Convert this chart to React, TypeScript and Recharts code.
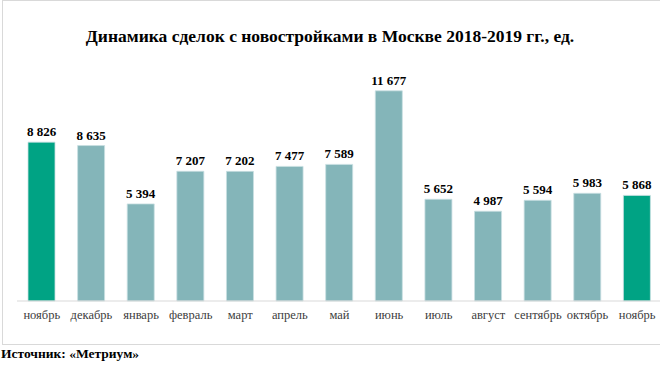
import React from "react";
import { BarChart, Bar, XAxis, YAxis, Cell, LabelList } from "recharts";

const months = ["ноябрь", "декабрь", "январь", "февраль", "март", "апрель", "май", "июнь", "июль", "август", "сентябрь", "октябрь", "ноябрь"];
const deals = [8826, 8635, 5394, 7207, 7202, 7477, 7589, 11677, 5652, 4987, 5594, 5983, 5868];
const highlighted = [0, 12];

const GREEN = "#00a384";
const TEAL = "#84b5b9";
const SERIF = "'Liberation Serif', 'Times New Roman', serif";

const data = months.map((m, i) => ({ month: m, value: deals[i] }));
// non-breaking space so the label text doesn't wrap
const fmt = (v: number) => String(v).replace(/\B(?=(\d{3})+(?!\d))/g, "\u00a0");

export default function App() {
  return (
    <div style={{ position: "absolute", left: 0, top: 0, width: 660, height: 367, overflow: "hidden", background: "#fff", fontFamily: SERIF }}>
      <div style={{ position: "absolute", left: 2, top: 0, width: 700, height: 343, border: "1.5px solid #d9d9d9" }} />
      <div style={{ position: "absolute", left: 0, top: 26, width: 660, textAlign: "center", fontWeight: "bold", fontSize: 17.5, color: "#000" }}>
        Динамика сделок с новостройками в Москве 2018-2019 гг., ед.
      </div>
      <div style={{ position: "absolute", left: 0, top: 0 }}>
        <BarChart width={680} height={345} data={data} margin={{ top: 67, right: 18, bottom: 14, left: 17 }} barSize={27}>
          <XAxis dataKey="month" interval={0} axisLine={{ stroke: "#d9d9d9" }} tickLine={false} height={30}
            tick={{ fontSize: 12.5, fill: "#404040", fontFamily: SERIF }} tickMargin={3} />
          <YAxis hide domain={[0, 13000]} />
          <Bar dataKey="value" isAnimationActive={false} stroke="#c9e0e2" strokeWidth={0.8}>
            {data.map((d, i) => (
              <Cell key={i} fill={highlighted.includes(i) ? GREEN : TEAL} />
            ))}
            <LabelList dataKey="value" position="top" offset={6} formatter={(v: number) => fmt(v)}
              style={{ fontSize: 13, fontWeight: "bold", fill: "#000", fontFamily: SERIF }} />
          </Bar>
        </BarChart>
      </div>
      <div style={{ position: "absolute", left: 1, top: 346, fontWeight: "bold", fontSize: 13.5, color: "#000" }}>
        Источник: «Метриум»
      </div>
    </div>
  );
}
